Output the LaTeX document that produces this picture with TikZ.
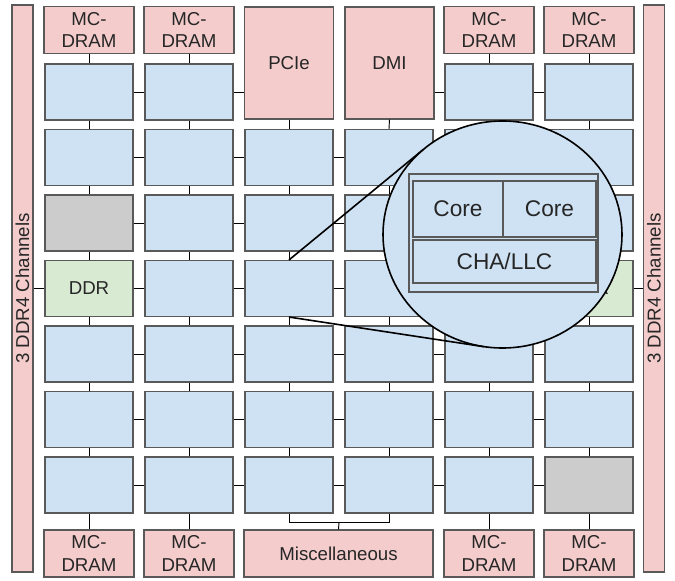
\documentclass[tikz,border=0pt]{standalone}
\usepackage{fontspec}
\setmainfont{Liberation Sans}
\usetikzlibrary{shapes.geometric,calc}
\definecolor{tblue}{HTML}{CFE2F3}
\definecolor{tpink}{HTML}{F4CCCC}
\definecolor{tgreen}{HTML}{D9EAD3}
\definecolor{tgray}{HTML}{CCCCCC}
\definecolor{bord}{HTML}{595959}
\def\u{0.75pt}
\tikzset{
  box/.style={draw=bord, line width=0.8pt, inner sep=0pt, align=center,
    font=\fontsize{14}{17}\selectfont, text=black!85},
  tile/.style={box, fill=tblue, minimum width=88*\u, minimum height=56*\u},
  graytile/.style={tile, fill=tgray},
  ddrtile/.style={tile, fill=tgreen},
  mc/.style={box, fill=tpink, minimum width=90*\u, minimum height=47*\u},
  io/.style={box, fill=tpink, minimum width=89*\u, minimum height=112*\u},
  bar/.style={box, fill=tpink, minimum width=567*\u, minimum height=21*\u},
  conn/.style={draw=black, line width=0.7pt},
  zoomline/.style={draw=black, line width=1.2pt},
  inner/.style={draw=bord, line width=0.8pt, fill=tblue, inner sep=0pt,
    font=\fontsize{17}{20}\selectfont, text=black!85},
}
\begin{document}
\begin{tikzpicture}[x=0.75pt, y=-0.75pt]
\useasboundingbox (0,0) rectangle (675,581);
% side bars
\node[bar, rotate=90] (lbar) at (22.5,288.5) {3 DDR4 Channels};
\node[bar, rotate=90] (rbar) at (654,288.5) {3 DDR4 Channels};
% top MC-DRAM, PCIe, DMI
\foreach \c/\x in {1/89,2/189,5/489,6/589}{
  \node[mc] (mt\c) at (\x,30) {MC-\\DRAM};
  \node[mc] (mb\c) at (\x,553.5) {MC-\\DRAM};
}
\node[io] (pcie) at (289,63) {PCIe};
\node[io] (dmi) at (389.5,63) {DMI};
\node[box, fill=tpink, minimum width=189*\u, minimum height=47*\u] (misc) at (338.5,553.5) {Miscellaneous};
% tiles
\foreach \r/\cols in {1/{1,2,5,6},2/{1,...,6},3/{2,...,6},4/{2,...,5},5/{1,...,6},6/{1,...,6},7/{1,...,5}}{
  \foreach \c in \cols {
    \pgfmathsetmacro\xx{89+100*(\c-1)}
    \pgfmathsetmacro\yy{92+65.5*(\r-1)}
    \node[tile] (t\r\c) at (\xx,\yy) {};
  }
}
\node[graytile] (t31) at (89,223) {};
\node[graytile] (t76) at (589,485) {};
\node[ddrtile] (t41) at (89,288.5) {DDR};
\node[ddrtile] (t46) at (589,288.5) {DDR};
% vertical connectors
\foreach \c in {1,2,5,6}{
  \draw[conn] (mt\c.south) -- (t1\c.north);
  \draw[conn] (t1\c.south) -- (t2\c.north);
  \draw[conn] (t7\c.south) -- (mb\c.north);
}
\draw[conn] (pcie.south) -- (t23.north);
\draw[conn] (dmi.south) -- (t24.north);
\foreach \r [evaluate=\r as \rn using int(\r+1)] in {2,...,6}{
  \foreach \c in {1,...,6}{
    \draw[conn] (t\r\c.south) -- (t\rn\c.north);
  }
}
% horizontal connectors
\draw[conn] (t11.east) -- (t12.west);
\draw[conn] (t12.east) -- (t12.east -| pcie.west);
\draw[conn] (t15.west -| dmi.east) -- (t15.west);
\draw[conn] (t15.east) -- (t16.west);
\foreach \r in {2,...,7}{
  \foreach \c [evaluate=\c as \cn using int(\c+1)] in {1,...,5}{
    \draw[conn] (t\r\c.east) -- (t\r\cn.west);
  }
}
% DDR to side bars
\draw[conn] (t41.west) -- (lbar);
\draw[conn] (t46.east) -- (rbar);
% bracket to Miscellaneous
\path ($(t73.south)!0.5!(t74.south)$) ++(0,9) coordinate (j);
\draw[conn] (t73.south) |- (j) -| (t74.south);
\draw[conn] (j) -- (misc.north);
% magnifier
\node[draw=black, line width=1.2pt, fill=tblue, ellipse, inner sep=0pt,
  minimum width=239*\u, minimum height=227*\u] (mag) at (502.5,234.5) {};
\coordinate (tu) at (423.5,149.3);
\coordinate (tl) at (484,346.7);
\draw[zoomline] (t43.north) -- (tu);
\draw[zoomline] (t43.south) -- (tl);
\node[inner, minimum width=189*\u, minimum height=118*\u] (frame) at (503.5,233) {};
\node[inner, minimum width=90*\u, minimum height=56*\u] (core1) at (458,209) {Core};
\node[inner, minimum width=93*\u, minimum height=56*\u] (core2) at (549.5,209) {Core};
\node[inner, minimum width=183*\u, minimum height=43*\u] (cha) at (504.5,261.5) {CHA/LLC};
\end{tikzpicture}
\end{document}
